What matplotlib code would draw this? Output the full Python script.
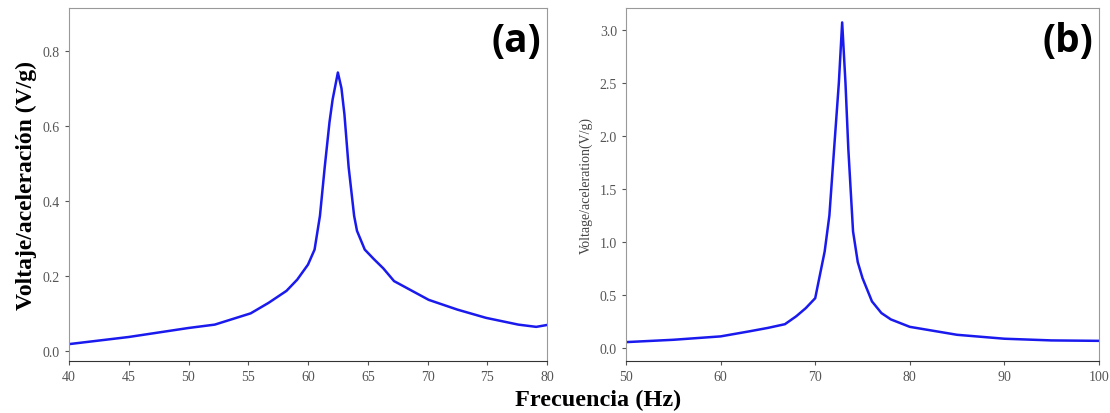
from matplotlib import pyplot as plt

# Panel (a) frequency response.
freqA = [40, 45, 50, 52.2, 55.2, 56.7, 58.2, 59.1, 60.0, 60.55, 61.0, 61.4,
         61.8, 62.06, 62.5, 62.8, 63.05, 63.4, 63.86, 64.1, 64.75, 65.5,
         66.3, 67.2, 70.1, 72.5, 74.9, 77.6, 79.1, 80]
voltA = [0.018, 0.037, 0.061, 0.070, 0.100, 0.128, 0.160, 0.190, 0.230,
         0.270, 0.360, 0.490, 0.610, 0.670, 0.742, 0.700, 0.630, 0.490,
         0.360, 0.320, 0.270, 0.245, 0.220, 0.186, 0.136, 0.110, 0.088,
         0.070, 0.064, 0.069]

# Panel (b) frequency response.
freqB = [50, 55, 60, 63, 65, 66.8, 68, 69, 70, 70.5, 71, 71.5, 72, 72.5,
         72.85, 73.2, 73.5, 74, 74.5, 75, 76, 77, 78, 80, 85, 90, 95, 100]
voltB = [0.056, 0.078, 0.110, 0.157, 0.190, 0.225, 0.300, 0.376, 0.470,
         0.690, 0.910, 1.250, 1.880, 2.500, 3.070, 2.500, 1.880, 1.100,
         0.810, 0.660, 0.440, 0.330, 0.270, 0.200, 0.125, 0.088, 0.072, 0.068]

serif = 'Liberation Serif'
tickGray = '#555555'
lineBlue = '#1a1aee'


def styleAxis(ax):
  for side in ['top', 'right', 'left']:
    ax.spines[side].set_color('#999999')
  ax.spines['bottom'].set_color('#333333')
  ax.tick_params(colors=tickGray, labelsize=10, length=3)
  for lbl in ax.get_xticklabels() + ax.get_yticklabels():
    lbl.set_fontfamily(serif)


fig = plt.figure(figsize=(11.1, 4.14), dpi=100)

# Left panel.
axA = fig.add_axes([69 / 1110, 1 - 362 / 414, 478 / 1110, 353 / 414])
axA.plot(freqA, voltA, color=lineBlue, linewidth=1.8)
axA.set_xlim(40, 80)
axA.set_ylim(-0.027, 0.914)
axA.set_xticks(range(40, 81, 5))
axA.set_yticks([0.0, 0.2, 0.4, 0.6, 0.8])
styleAxis(axA)
axA.set_ylabel('Voltaje/aceleración (V/g)', fontfamily=serif,
               fontweight='bold', fontsize=17, labelpad=4)
axA.text(0.988, 0.962, '(a)', transform=axA.transAxes, ha='right', va='top',
         fontfamily='Open Sans', fontweight='bold', fontsize=28)

# Right panel.
axB = fig.add_axes([626 / 1110, 1 - 362 / 414, 473 / 1110, 353 / 414])
axB.plot(freqB, voltB, color=lineBlue, linewidth=1.8)
axB.set_xlim(50, 100)
axB.set_ylim(-0.122, 3.206)
axB.set_xticks(range(50, 101, 10))
axB.set_yticks([0.0, 0.5, 1.0, 1.5, 2.0, 2.5, 3.0])
styleAxis(axB)
axB.set_ylabel('Voltage/aceleration(V/g)', fontfamily=serif,
               fontsize=10, color='#444444', labelpad=5)
axB.text(0.988, 0.962, '(b)', transform=axB.transAxes, ha='right', va='top',
         fontfamily='Open Sans', fontweight='bold', fontsize=28)

fig.text(598 / 1110, 1 - 400 / 414, 'Frecuencia (Hz)', ha='center',
         va='center', fontfamily=serif, fontweight='bold', fontsize=17.5)

fig.savefig('out.png', dpi=100)
